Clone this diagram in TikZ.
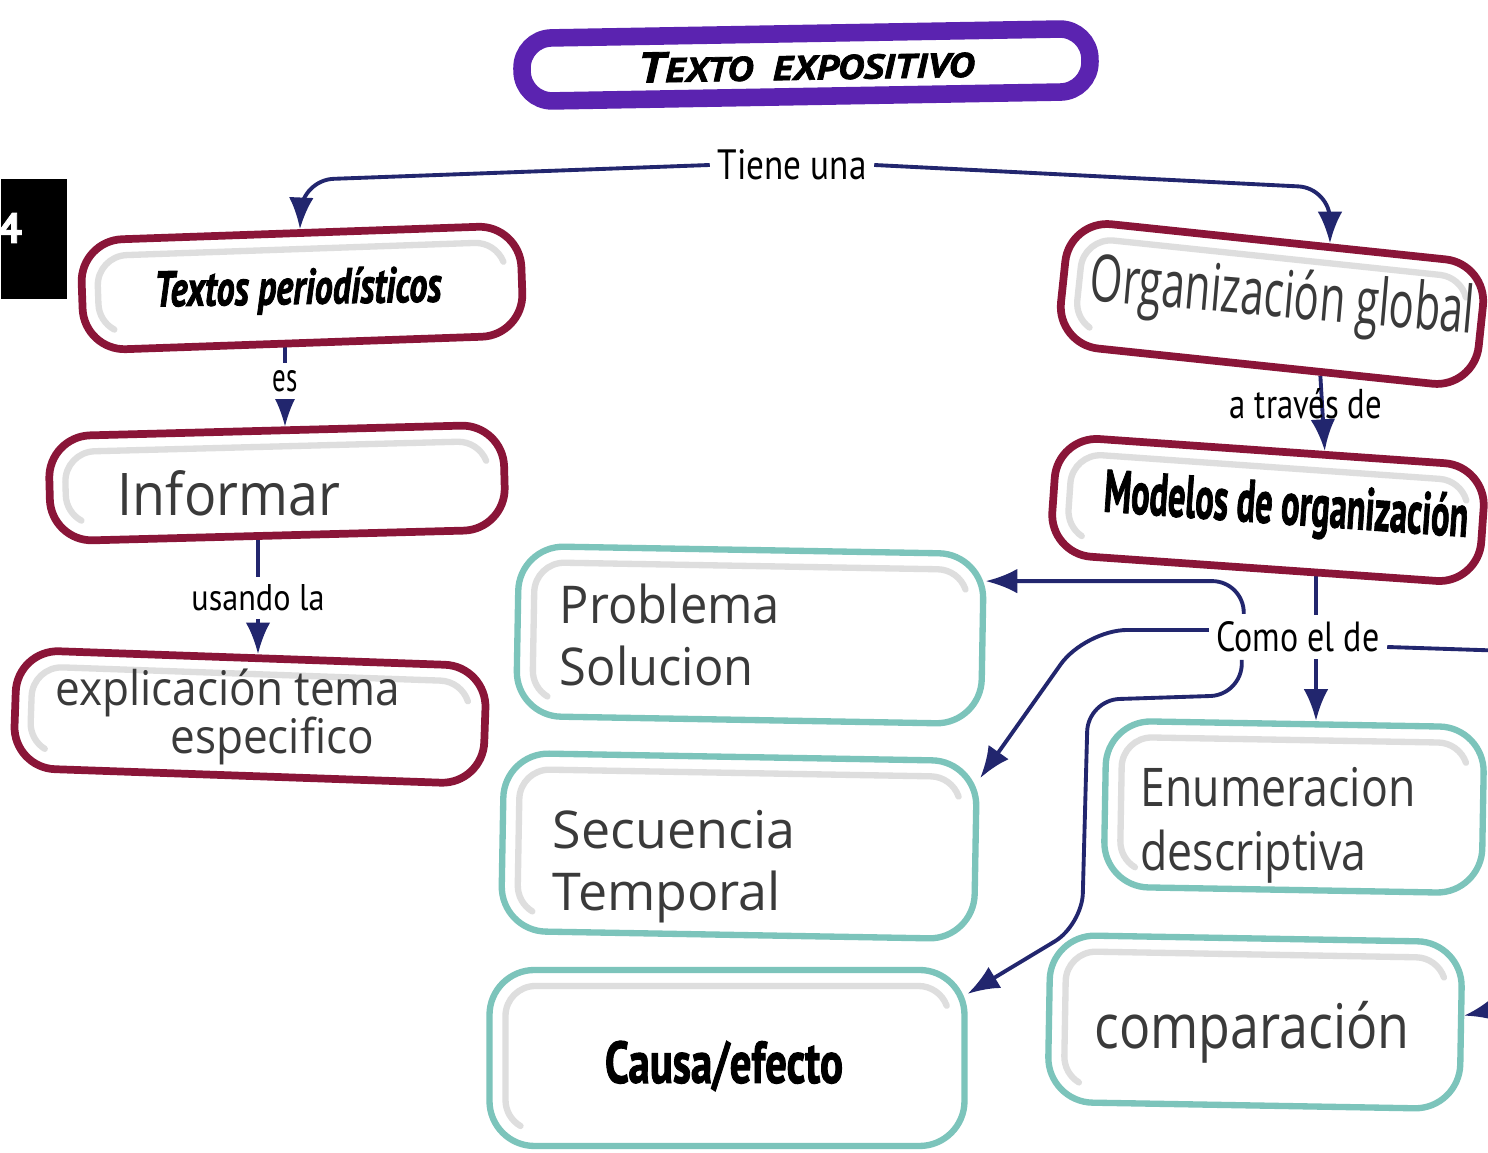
\documentclass[tikz,border=0pt]{standalone}
\usepackage{fontspec}
\setmainfont{PT Sans}
\newfontfamily\labfont{PT Sans}
\newfontfamily\hwfont{Open Sans}
\newfontfamily\heavyfont[FakeBold=2]{PT Sans}
\usetikzlibrary{arrows.meta,calc}
\definecolor{navy}{HTML}{22266E}
\definecolor{maroonc}{HTML}{8A1538}
\definecolor{tealc}{HTML}{7CC4BB}
\definecolor{violetc}{HTML}{5B23B0}
\definecolor{hwgray}{HTML}{3A3A3A}
\pgfdeclarelayer{paper}
\pgfdeclarelayer{lines}
\pgfsetlayers{paper,lines,main}
\tikzset{
  conn/.style={draw=navy, line width=1.1pt, rounded corners=9pt},
  arr/.style={conn, -{Latex[length=9pt,width=7pt]}},
  lab/.style={fill=white, inner sep=2pt, text=black, font=\labfont},
  labclear/.style={inner sep=2pt, text=black, font=\labfont},
  maroonbox/.style={draw=maroonc, rounded corners=0.42cm, line width=2.2pt, inner sep=0pt},
  tealbox/.style={draw=tealc, rounded corners=0.45cm, line width=1.8pt, inner sep=0pt},
  insetline/.style={draw=black!13, line width=1.8pt, line cap=round},
  hw/.style={inner sep=0pt, text=hwgray, font=\hwfont},
  heavy/.style={inner sep=0pt, text=black, font=\heavyfont},
}
\newcommand\cmbox[7]{%
  \begin{scope}[shift={(#2,#3)}, rotate=#6]
    \draw[insetline] ({-#4/2+0.31},{-#5/2+0.20}) arc[start angle=240,end angle=180,radius=0.3]
      -- ({-#4/2+0.16},{#5/2-0.46}) arc[start angle=180,end angle=90,radius=0.3]
      -- ({#4/2-0.46},{#5/2-0.16}) arc[start angle=90,end angle=20,radius=0.3];
  \end{scope}
  \node[#7, rotate=#6, minimum width=#4cm, minimum height=#5cm] (#1) at (#2,#3) {};
}
\begin{document}
\begin{tikzpicture}
\useasboundingbox (0,0) rectangle (14.88,-11.53);
\begin{pgfonlayer}{paper}
  \fill[white] (0,0) rectangle (14.88,-11.53);
\end{pgfonlayer}

% badge at left edge
\node[fill=black, minimum width=0.66cm, minimum height=1.2cm, inner sep=0pt, anchor=north west] (badge) at (0,-1.78) {};
\node[text=white, font=\heavyfont\bfseries\large, inner sep=0pt] (four) at (0.10,-2.28) {4};

% title
\node[draw=violetc, line width=5pt, rounded corners=0.3cm, minimum width=5.68cm, minimum height=0.63cm, inner sep=0pt, rotate=1] (title) at (8.06,-0.65)
  {\resizebox{3.36cm}{0.3cm}{\heavyfont\bfseries\itshape T{\footnotesize EXTO\ \ EXPOSITIVO}}};

% boxes
\cmbox{textos}{3.02}{-2.88}{4.40}{1.10}{2}{maroonbox}
\cmbox{informar}{2.77}{-4.83}{4.55}{1.05}{1.5}{maroonbox}
\cmbox{expl}{2.50}{-7.17}{4.70}{1.18}{-2}{maroonbox}
\cmbox{og}{12.72}{-3.04}{4.20}{1.25}{-6}{maroonbox}
\cmbox{mod}{12.68}{-5.10}{4.30}{1.18}{-4}{maroonbox}
\cmbox{prob}{7.50}{-6.35}{4.65}{1.70}{-1}{tealbox}
\cmbox{sec}{7.39}{-8.46}{4.73}{1.78}{-1}{tealbox}
\cmbox{causa}{7.27}{-10.58}{4.75}{1.76}{0}{tealbox}
\cmbox{enum}{12.94}{-8.07}{3.78}{1.66}{-1}{tealbox}
\cmbox{comp}{12.55}{-10.22}{4.12}{1.67}{-1}{tealbox}

% box texts
\node[heavy, rotate=1] (textos-t) at (2.98,-2.91) {\resizebox{2.87cm}{0.36cm}{\bfseries\itshape Textos periodísticos}};
\node[heavy, rotate=-4] (mod-t) at (12.86,-5.09) {\resizebox{3.65cm}{0.43cm}{\bfseries Modelos de organización}};
\node[heavy] (causa-t) at (7.24,-10.66) {\resizebox{2.38cm}{0.42cm}{\bfseries Causa/efecto}};
\node[hw] (informar-t) at (2.29,-4.93) {\resizebox{2.22cm}{0.45cm}{Informar}};
\node[hw, rotate=-5] (og-t) at (12.82,-3.00) {\resizebox{3.85cm}{0.50cm}{Organización global}};
\node[hw] (expl-t) at (2.28,-7.18) {\resizebox*{3.45cm}{1.05cm}{\begin{tabular}{@{}c@{}}explicación tema\\[-2pt]\hspace*{2em}especifico\end{tabular}}};
\node[hw] (prob-t) at (6.70,-6.42) {\resizebox*{2.20cm}{1.25cm}{\begin{tabular}{@{}l@{}}Problema\\Solucion\end{tabular}}};
\node[hw] (sec-t) at (6.74,-8.67) {\resizebox*{2.42cm}{1.25cm}{\begin{tabular}{@{}l@{}}Secuencia\\Temporal\end{tabular}}};
\node[hw] (enum-t) at (12.78,-8.26) {\resizebox*{2.75cm}{1.28cm}{\begin{tabular}{@{}l@{}}Enumeracion\\descriptiva\end{tabular}}};
\node[hw] (comp-t) at (12.52,-10.32) {\resizebox*{3.15cm}{0.62cm}{comparación}};

% connector labels
\node[lab] (tiene) at (7.92,-1.65) {\resizebox{1.49cm}{0.30cm}{Tiene una}};
\node[lab] (es) at (2.85,-3.81) {\resizebox{0.25cm}{0.21cm}{es}};
\node[lab] (usando) at (2.58,-5.98) {\resizebox{1.33cm}{0.26cm}{usando la}};
\node[labclear] (traves) at (13.06,-4.04) {\resizebox{1.52cm}{0.30cm}{a través de}};
\node[lab] (como) at (12.98,-6.37) {\resizebox{1.63cm}{0.30cm}{Como el de}};

\coordinate (mb) at ($(mod.south west)!0.62!(mod.south east)$);
\coordinate (c1) at ($(como.north west)+(0.35,0)$);
\coordinate (c2) at ($(como.south west)+(0.33,0)$);

\begin{pgfonlayer}{lines}
  \draw[arr] (tiene.west) -- (3.02,-1.80) -- (textos.north);
  \draw[arr] (tiene.east) -- (13.30,-1.88) -- ($(og.north west)!0.62!(og.north east)$);
  \draw[conn] (es.north |- textos.south) -- (es.north);
  \draw[arr] (es.south) -- (es.south |- informar.north);
  \draw[conn] (usando.north |- informar.south) -- (usando.north);
  \draw[arr] (usando.south) -- (usando.south |- expl.north);
  \draw[arr] ($(og.south west)!0.63!(og.south east)$) -- ($(mod.north west)!0.62!(mod.north east)$);
  \draw[arr] (mb) -- (mb |- enum.north);
  \draw[arr] (c1) |- ([yshift=0.58cm]prob.east);
  \draw[arr, rounded corners=12pt] ([yshift=0.07cm]como.west) -- (10.85,-6.30) -- ([yshift=-0.2cm]sec.north east);
  \draw[arr] (c2) -- (12.42,-6.95) -- (10.88,-7.00) -- (10.82,-9.25) -- ([yshift=-0.27cm]causa.north east);
  \draw[arr] ([yshift=-0.10cm]como.east) -- (15.40,-6.52) -- (15.40,-10.00) -- ([yshift=0.10cm]comp.east);
\end{pgfonlayer}
\end{tikzpicture}
\end{document}
